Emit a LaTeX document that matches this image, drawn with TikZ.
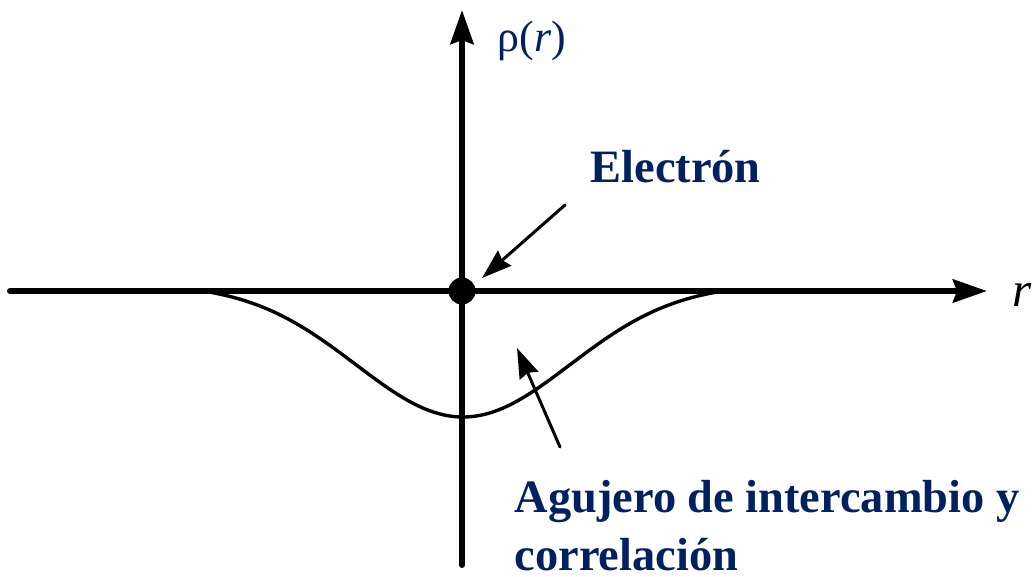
\documentclass[tikz,border=0pt]{standalone}
\usepackage{fontspec}
\setmainfont{Liberation Serif}
\usetikzlibrary{arrows.meta}
\definecolor{azul}{HTML}{002060}
\begin{document}
\begin{tikzpicture}[line join=round, line cap=round, >={Stealth[length=0.34cm,width=0.23cm,inset=0.04cm]}]
			\tikzset{declare function={g(\t)=exp(-(\t)^2/(2*1.07^2));}}
			\tikzset{eje/.style={line width=0.06cm,->}, flecha/.style={line width=0.03cm,-{Stealth[length=0.3cm,width=0.2cm,inset=0.03cm]}},
				rotulo/.style={text=azul,font=\fontsize{13.2}{16.4}\selectfont\bfseries,inner sep=0pt}}
			\useasboundingbox (0,0) rectangle (10.36,5.76);
			\path (4.62,2.85)coordinate (O) (0.10,2.85)coordinate (I) (9.87,2.85)coordinate (D) (4.62,0.11)coordinate (B) (4.62,5.66)coordinate (T);
			% Ejes
			\draw[eje] (I) -- (D);
			\draw[eje] (B) -- (T);
			\node[anchor=base west,inner sep=0pt,font=\fontsize{14}{16}\selectfont] (r) at (10.12,2.70) {\textit{r}};
			\node[anchor=west,inner sep=0pt,text=azul,font=\fontsize{12.5}{15}\selectfont] (rho) at (4.97,5.35) {ρ(\textit{r})};
			% Agujero
			\draw[line width=0.034cm,domain=-2.6:2.6,samples=90,smooth] plot ({4.63+\x},{2.85-1.26*(g(\x)-g(2.6))/(1-g(2.6))});
			\fill (O) circle (0.135);
			% Rótulos
			\node[rotulo,anchor=base west] (elec) at (5.90,3.94) {Electrón};
			\node[rotulo,anchor=base west,align=left] (aguj) at (5.14,0.06) {Agujero de intercambio y\\correlación};
			\path (5.65,3.71)coordinate (e1) (4.82,2.98)coordinate (e2) (5.60,1.29)coordinate (a1) (5.17,2.28)coordinate (a2);
			\draw[flecha] (e1) -- (e2);
			\draw[flecha] (a1) -- (a2);
		\end{tikzpicture}
\end{document}
